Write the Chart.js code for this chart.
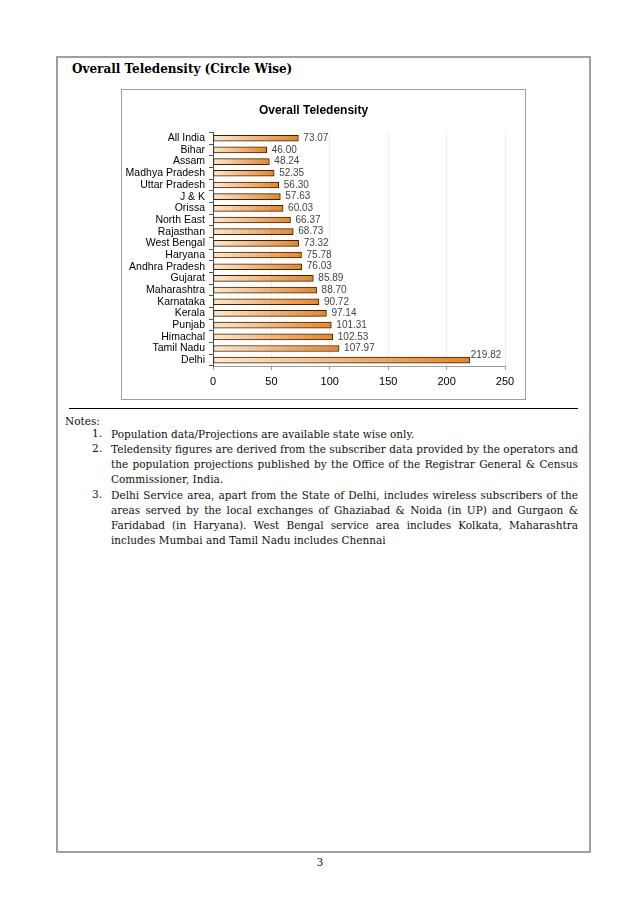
<!DOCTYPE html>
<html>
<head>
<meta charset="utf-8">
<script src="https://cdn.jsdelivr.net/npm/chart.js@4"></script>
<style>
  body { margin: 0; background: #fff; width: 638px; height: 902px; position: relative; overflow: hidden; }
  .page { position: absolute; left: 56px; top: 56px; width: 531px; height: 793px; border: 2px solid #a0a0a0; }
  .heading { position: absolute; left: 72px; top: 62px; font: bold 12px "DejaVu Serif", serif; color: #000; white-space: nowrap; }
  .chartbox { position: absolute; left: 121px; top: 89px; width: 403px; height: 309px; border: 1px solid #a0a0a0; }
  .chartbox canvas { display: block; }
  .rule { position: absolute; left: 69px; top: 408px; width: 509px; height: 0; border-top: 1px solid #000; }
  .notes { position: absolute; left: 65px; top: 414px; font: 10.5px "DejaVu Serif", serif; color: #111; }
  .item { position: absolute; left: 46px; width: 467px; }
  .item .num { position: absolute; left: -19px; }
  .line { height: 15px; line-height: 15px; white-space: nowrap; }
  .just { text-align: justify; text-align-last: justify; white-space: normal; }
  .pageno { position: absolute; left: 317px; top: 855px; font: 12px "Liberation Serif", serif; }
</style>
</head>
<body>
<div class="page"></div>
<div class="heading">Overall Teledensity (Circle Wise)</div>
<div class="chartbox"><canvas id="chart" width="403" height="309"></canvas></div>
<div class="rule"></div>
<div class="notes">
  <div class="line" style="position:absolute;left:0;top:0">Notes:</div>
  <div class="item" style="top:13px"><span class="num">1.</span>
    <div class="line">Population data/Projections are available state wise only.</div>
  </div>
  <div class="item" style="top:28px"><span class="num">2.</span>
    <div class="line just">Teledensity figures are derived from the subscriber data provided by the operators and</div>
    <div class="line just">the population projections published by the Office of the Registrar General &amp; Census</div>
    <div class="line">Commissioner, India.</div>
  </div>
  <div class="item" style="top:74px"><span class="num">3.</span>
    <div class="line just">Delhi Service area, apart from the State of Delhi, includes wireless subscribers of the</div>
    <div class="line just">areas served by the local exchanges of Ghaziabad &amp; Noida (in UP) and Gurgaon &amp;</div>
    <div class="line just">Faridabad (in Haryana). West Bengal service area includes Kolkata, Maharashtra</div>
    <div class="line">includes Mumbai and Tamil Nadu includes Chennai</div>
  </div>
</div>
<div class="pageno">3</div>

<script>
const circles = ['All India', 'Bihar', 'Assam', 'Madhya Pradesh', 'Uttar Pradesh', 'J & K', 'Orissa',
  'North East', 'Rajasthan', 'West Bengal', 'Haryana', 'Andhra Pradesh', 'Gujarat', 'Maharashtra',
  'Karnataka', 'Kerala', 'Punjab', 'Himachal', 'Tamil Nadu', 'Delhi'];
const teledensity = [73.07, 46.00, 48.24, 52.35, 56.30, 57.63, 60.03, 66.37, 68.73, 73.32, 75.78,
  76.03, 85.89, 88.70, 90.72, 97.14, 101.31, 102.53, 107.97, 219.82];
const xTicks = [0, 50, 100, 150, 200, 250];

// each bar fades from pale peach at the axis to orange at its end
function barGradient(ctx) {
  const chart = ctx.chart;
  const x = chart.scales.x;
  if (!x || ctx.type !== 'data') return '#eba35c';
  const x0 = x.getPixelForValue(0);
  const x1 = x.getPixelForValue(ctx.raw);
  if (!isFinite(x0) || !isFinite(x1) || x1 <= x0) return '#eba35c';
  const g = chart.ctx.createLinearGradient(x0, 0, x1, 0);
  g.addColorStop(0, '#fde7ce');
  g.addColorStop(1, '#e6852a');
  return g;
}

const valueLabels = {
  id: 'valueLabels',
  afterDatasetsDraw(chart) {
    const ctx = chart.ctx;
    const meta = chart.getDatasetMeta(0);
    ctx.save();
    ctx.font = '10px "Liberation Sans", Arial, sans-serif';
    ctx.fillStyle = '#444';
    ctx.textAlign = 'left';
    ctx.textBaseline = 'middle';
    meta.data.forEach((bar, i) => {
      const v = teledensity[i];
      const txt = v.toFixed(2);
      if (v > 200) ctx.fillText(txt, bar.x + 1, bar.y - 5);
      else ctx.fillText(txt, bar.x + 5, bar.y);
    });
    ctx.restore();
  }
};

new Chart(document.getElementById('chart'), {
  type: 'bar',
  data: {
    labels: circles,
    datasets: [{
      data: teledensity,
      backgroundColor: barGradient,
      borderColor: '#3d2200',
      borderWidth: 1,
      borderSkipped: false,
      barThickness: 6
    }]
  },
  options: {
    indexAxis: 'y',
    responsive: false,
    animation: false,
    layout: { padding: { left: 0, right: 20, top: 0, bottom: 0 } },
    plugins: {
      legend: { display: false },
      tooltip: { enabled: false },
      title: {
        display: true,
        text: 'Overall Teledensity',
        color: '#000',
        font: { family: '"Liberation Sans", Arial, sans-serif', size: 12, weight: 'bold' },
        padding: { top: 13, bottom: 15 }
      }
    },
    scales: {
      x: {
        min: xTicks[0],
        max: xTicks[xTicks.length - 1],
        afterFit: (s) => { s.height = 33; },
        ticks: {
          stepSize: 50,
          padding: 5,
          color: '#000',
          font: { family: '"Liberation Sans", Arial, sans-serif', size: 11 }
        },
        grid: { color: '#eeeeee', tickColor: '#999', tickLength: 4 },
        border: { color: '#999' }
      },
      y: {
        afterFit: (s) => { s.width = 91; },
        ticks: {
          padding: 4,
          color: '#000',
          autoSkip: false,
          font: { family: '"Liberation Sans", Arial, sans-serif', size: 10.5 }
        },
        grid: { drawOnChartArea: false, color: '#555', tickLength: 4 },
        border: { color: '#555' }
      }
    }
  },
  plugins: [valueLabels]
});
</script>
</body>
</html>
